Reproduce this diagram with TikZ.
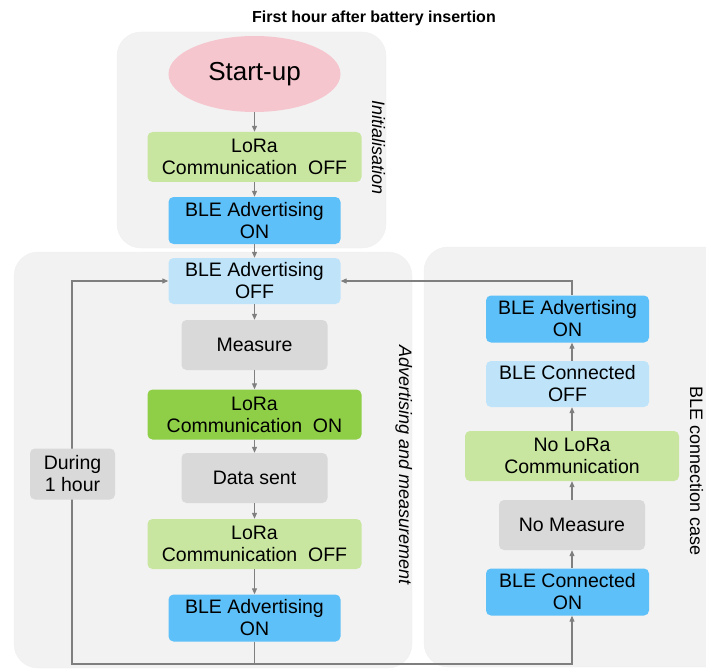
\documentclass[tikz,border=0pt]{standalone}
\usepackage{fontspec}
\setmainfont{Liberation Sans}
\usetikzlibrary{arrows.meta, positioning, shapes.geometric}
\definecolor{grp}{HTML}{F2F2F2}
\definecolor{pinkst}{HTML}{F6C6CF}
\definecolor{lgreen}{HTML}{C8E6A0}
\definecolor{dgreen}{HTML}{8FCF48}
\definecolor{dblue}{HTML}{5EC0F8}
\definecolor{lblue}{HTML}{BFE4FA}
\definecolor{lgrey}{HTML}{D9D9D9}
\definecolor{wire}{HTML}{7F7F7F}

\begin{document}
\begin{tikzpicture}[
        x=1pt, y=-1pt, on grid, node distance=64pt,
        >={Triangle[length=6pt,width=5pt]},
        box/.style={rectangle, rounded corners=5pt, align=center, inner sep=0pt,
          font=\fontsize{19.5}{22}\selectfont},
        advon/.style={box, fill=dblue, minimum width=172pt, minimum height=47pt},
        advoff/.style={box, fill=lblue, minimum width=172pt, minimum height=46pt},
        loraon/.style={box, fill=dgreen, minimum width=214pt, minimum height=50pt},
        loraoff/.style={box, fill=lgreen, minimum width=214pt, minimum height=50pt},
        meas/.style={box, fill=lgrey, minimum width=146pt, minimum height=50pt},
        flow/.style={->, draw=wire, line width=1.1pt},
        group/.style={fill=grp, draw=black!6, rounded corners=24pt},
        side/.style={rotate=-90, anchor=base, inner sep=0pt,
          font=\fontsize{18}{20}\selectfont\itshape},
        ]
        \useasboundingbox (0,0) rectangle (706,671);

        % groups
        \draw[group] (117,32) rectangle (386,248);
        \draw[group] (14,252) rectangle (412,668);
        \draw[group] (424,247) rectangle (740,667);

        \node[font=\fontsize{16}{18}\selectfont\bfseries] (title) at (374,18) {First hour after battery insertion};
        \node[side] (initlab) at (372,148) {Initialisation};
        \node[side] (advlab) at (399,465) {Advertising and measurement};
        \node[side, font=\fontsize{18}{20}\selectfont] (blelab) at (690,471) {BLE connection case};

        % initialisation
        \node[ellipse, fill=pinkst, minimum width=172pt, minimum height=76pt, inner sep=0pt,
          font=\fontsize{26}{28}\selectfont] (start) at (254.5,74) {Start-up};
        \node[loraoff] (lora1) [below=83pt of start] {LoRa\\Communication\ \ OFF};
        \node[advon] (ble1) [below=63.5pt of lora1] {BLE Advertising\\ON};

        % advertising and measurement
        \node[advoff] (advoff) [below=60.5pt of ble1] {BLE Advertising\\OFF};
        \node[meas] (measure) [below=of advoff] {Measure};
        \node[loraon] (loraon) [below=69.5pt of measure] {LoRa\\Communication\ \ ON};
        \node[meas] (sent) [below=63.5pt of loraon] {Data sent};
        \node[loraoff] (lora2) [below=66pt of sent] {LoRa\\Communication\ \ OFF};
        \node[advon] (ble2) [below=74pt of lora2] {BLE Advertising\\ON};

        % BLE connection case
        \node[loraoff] (nolora) at (572,456) {No LoRa\\Communication};
        \node[meas] (nomeas) [below=69pt of nolora] {No Measure};
        \node[advon, minimum width=163pt] (conon) [below=67pt of nomeas, xshift=-4.5pt] {BLE Connected\\ON};
        \node[advoff, minimum width=163pt] (conoff) [above=72pt of nolora, xshift=-4.5pt] {BLE Connected\\OFF};
        \node[advon, minimum width=163pt] (ble3) [above=65pt of conoff] {BLE Advertising\\ON};

        \coordinate (loopL) at (72,664);
        \coordinate (loopB) at (ble2 |- loopL);

        \draw[flow] (start) -- (lora1);
        \draw[flow] (lora1) -- (ble1);
        \draw[flow] (ble1) -- (advoff);
        \draw[flow] (advoff) -- (measure);
        \draw[flow] (measure) -- (loraon);
        \draw[flow] (loraon) -- (sent);
        \draw[flow] (sent) -- (lora2);
        \draw[flow] (lora2) -- (ble2);
        \draw[flow] (ble2) |- (loopL) |- (advoff);
        \draw[flow] (loopB) -| (conon.south -| nolora);
        \draw[flow] (conon.north -| nolora) -- (nomeas);
        \draw[flow] (nomeas) -- (nolora);
        \draw[flow] (nolora) -- (conoff.south -| nolora);
        \draw[flow] (conoff.north -| nolora) -- (ble3.south -| nolora);
        \draw[flow] (ble3.north -| nolora) |- (advoff);

        \node[meas, minimum width=85pt, minimum height=51pt] (during) at (72.5,474) {During\\1 hour};
\end{tikzpicture}
\end{document}
